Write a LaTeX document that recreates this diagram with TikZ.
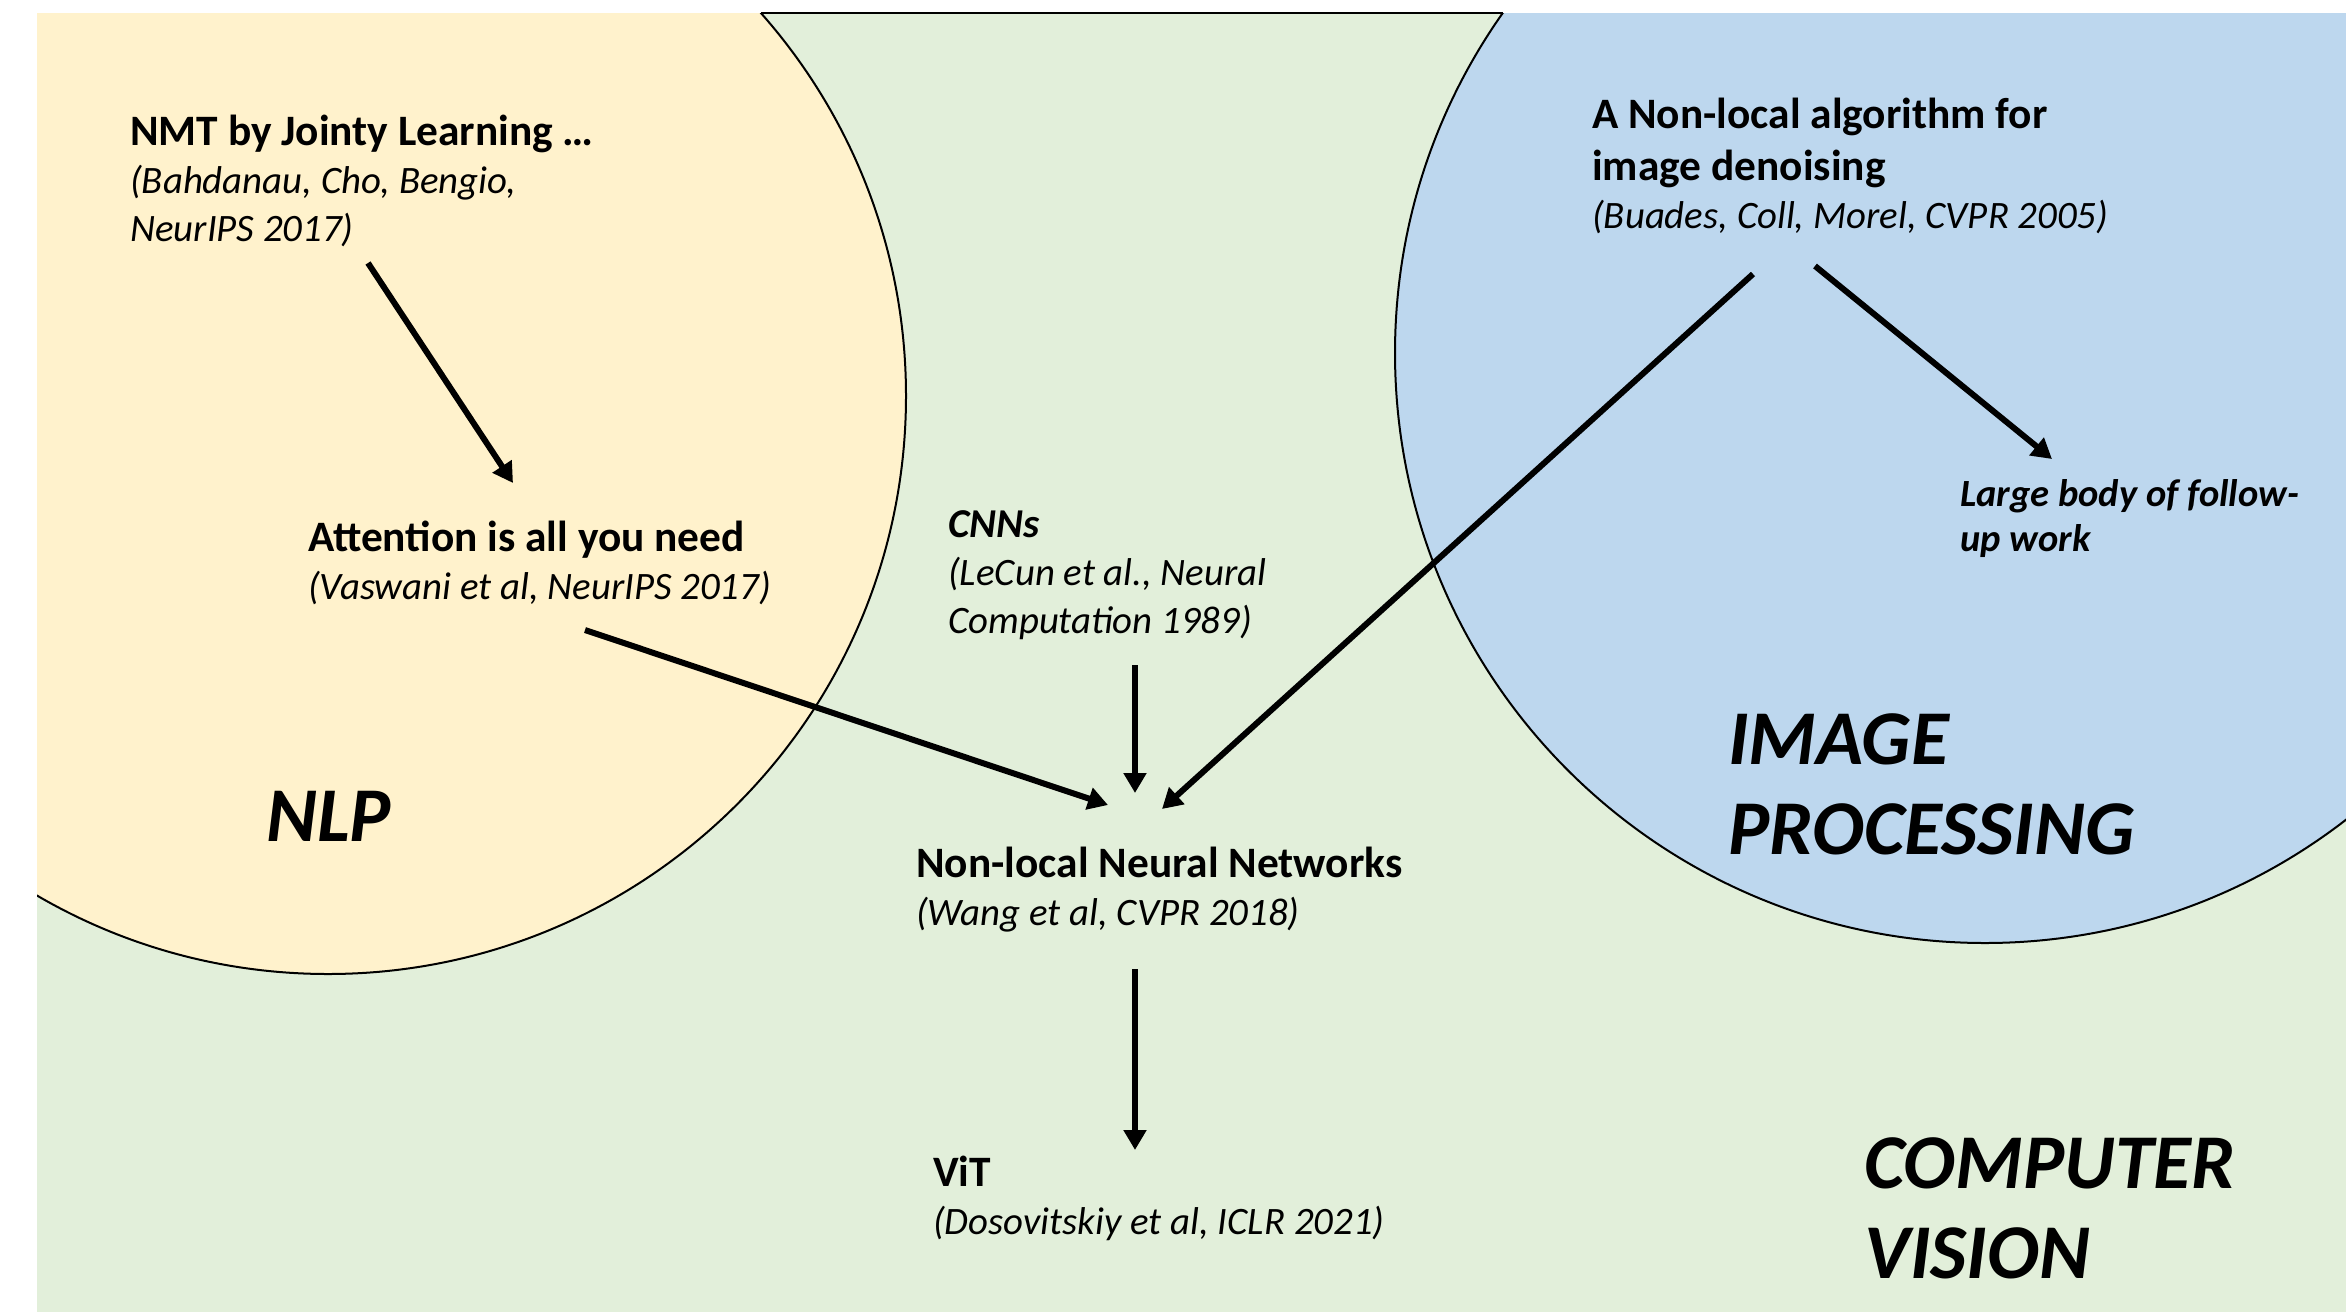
\documentclass[tikz,border=0pt]{standalone}
\usepackage{fontspec}
\setmainfont{Carlito}
\usetikzlibrary{arrows.meta}
\definecolor{nlpY}{HTML}{FFF2CC}
\definecolor{cvG}{HTML}{E2EFDA}
\definecolor{ipB}{HTML}{BDD7EE}
\newcommand\blk[1]{\vtop{#1}}
\newcommand\hd{\fontsize{43.4}{48}\selectfont\bfseries}
\newcommand\ct{\fontsize{38.8}{48}\selectfont\itshape}
\newcommand\hdi{\fontsize{41}{48}\selectfont\bfseries\itshape}
\begin{document}
\begin{tikzpicture}[x=1pt,y=-1pt,
  body/.style={anchor=base west, inner sep=0pt, font=\fontsize{40}{48}\selectfont},
  small/.style={anchor=base west, inner sep=0pt, font=\fontsize{38.5}{45}\selectfont\bfseries\itshape},
  big/.style={anchor=base west, inner sep=0pt, font=\fontsize{77.5}{90}\selectfont\bfseries\itshape},
  arr/.style={line width=6pt, -{Triangle[length=20pt,width=22pt]}},
  ring/.style={line width=2pt, draw=black}]
\useasboundingbox (0,0) rectangle (2346,1312);
\fill[white] (0,0) rectangle (2346,1312);
\begin{scope}
  \clip (37,13) rectangle (2346,1312);
  \fill[cvG] (37,13) rectangle (2346,1312);
  \filldraw[fill=nlpY, ring] (328,396) circle[radius=578pt];
  \filldraw[fill=ipB, ring] (1985,353) circle[radius=590pt];
\end{scope}
\draw[ring] (761,13) -- (1503,13);

% text blocks
\node[body] (nmt) at (130,145) {\blk{\hbox{\hd NMT by Jointy Learning …}\hbox{\ct (Bahdanau, Cho, Bengio,}\hbox{\ct NeurIPS 2017)}}};
\node[body] (att) at (308,551) {\blk{\hbox{\hd Attention is all you need}\hbox{\ct (Vaswani et al, NeurIPS 2017)}}};
\node[body] (cnn) at (948,537) {\blk{\hbox{\hdi CNNs}\hbox{\ct (LeCun et al., Neural}\hbox{\ct Computation 1989)}}};
\node[body] (nlnn) at (916,877) {\blk{\hbox{\hd Non-local Neural Networks}\hbox{\ct (Wang et al, CVPR 2018)}}};
\node[body] (vit) at (933,1186) {\blk{\hbox{\hd ViT}\hbox{\ct (Dosovitskiy et al, ICLR 2021)}}};
\node[body] (nlm) at (1592,128) {\blk{\hbox{\hd A Non-local algorithm for}\vskip4pt\hbox{\hd image denoising}\hbox{\ct (Buades, Coll, Morel, CVPR 2005)}}};
\node[small] (follow) at (1960,506) {\blk{\hbox{Large body of follow-}\hbox{up work}}};
\node[big] (nlp) at (266,841) {NLP};
\node[big] (ip) at (1728,764) {\blk{\hbox{IMAGE}\hbox{PROCESSING}}};
\node[big] (cv) at (1864,1188) {\blk{\hbox{COMPUTER}\hbox{VISION}}};

% arrow end points
\coordinate (a1) at (368,263);  \coordinate (a2) at (513,483);
\coordinate (b1) at (585,630);  \coordinate (b2) at (1108,805);
\coordinate (c1) at (1135,665); \coordinate (c2) at (1135,793);
\coordinate (d1) at (1753,274); \coordinate (d2) at (1162,809);
\coordinate (e1) at (1815,266); \coordinate (e2) at (2052,459);
\coordinate (f1) at (1135,969); \coordinate (f2) at (1135,1150);

\draw[arr] (a1) -- (a2);
\draw[arr] (b1) -- (b2);
\draw[arr] (c1) -- (c2);
\draw[arr] (d1) -- (d2);
\draw[arr] (e1) -- (e2);
\draw[arr] (f1) -- (f2);
\end{tikzpicture}
\end{document}
